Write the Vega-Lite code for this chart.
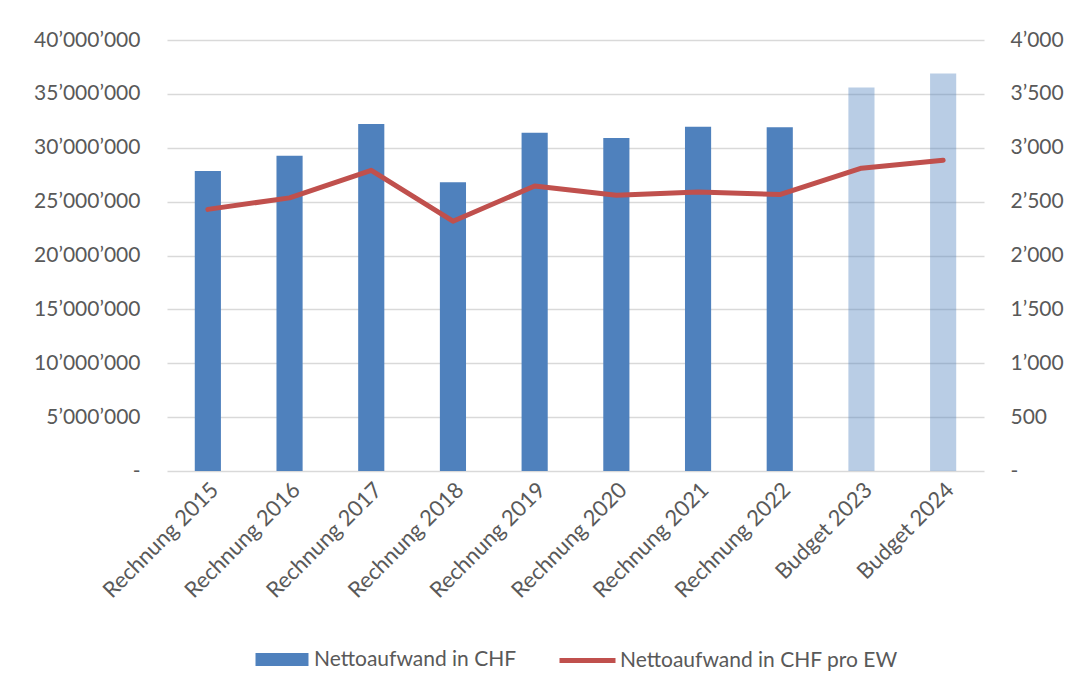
{
  "$schema": "https://vega.github.io/schema/vega-lite/v6.json",
  "width": 817,
  "height": 431,
  "padding": {"left": 27, "top": 29, "right": 10, "bottom": 10},
  "background": "white",
  "config": {
    "font": "Lato",
    "view": {"stroke": null},
    "axis": {
      "labelFont": "Lato",
      "labelFontSize": 21,
      "labelColor": "#595959",
      "domain": false,
      "ticks": false,
      "title": null
    },
    "legend": {
      "orient": "bottom",
      "labelLimit": 500,
      "layout": {"bottom": {"anchor": "middle", "direction": "horizontal", "margin": 40, "center": true}}
    }
  },
  "data": {
    "values": [
      {"cat": "Rechnung 2015", "kind": "Rechnung", "netto": 27850000, "ew": 2428},
      {"cat": "Rechnung 2016", "kind": "Rechnung", "netto": 29250000, "ew": 2535},
      {"cat": "Rechnung 2017", "kind": "Rechnung", "netto": 32200000, "ew": 2790},
      {"cat": "Rechnung 2018", "kind": "Rechnung", "netto": 26800000, "ew": 2318},
      {"cat": "Rechnung 2019", "kind": "Rechnung", "netto": 31400000, "ew": 2645},
      {"cat": "Rechnung 2020", "kind": "Rechnung", "netto": 30900000, "ew": 2560},
      {"cat": "Rechnung 2021", "kind": "Rechnung", "netto": 31950000, "ew": 2590},
      {"cat": "Rechnung 2022", "kind": "Rechnung", "netto": 31900000, "ew": 2565},
      {"cat": "Budget 2023", "kind": "Budget", "netto": 35600000, "ew": 2810},
      {"cat": "Budget 2024", "kind": "Budget", "netto": 36900000, "ew": 2884}
    ]
  },
  "encoding": {
    "x": {
      "field": "cat",
      "type": "nominal",
      "sort": null,
      "scale": {"paddingInner": 0.68, "paddingOuter": 0.34},
      "axis": {"labelAngle": -45, "labelPadding": 8, "labelFontSize": 22, "grid": false}
    }
  },
  "layer": [
    {
      "mark": {"type": "bar"},
      "encoding": {
        "y": {
          "field": "netto",
          "type": "quantitative",
          "scale": {"domain": [0, 40000000]},
          "axis": {
            "orient": "left",
            "values": [0, 5000000, 10000000, 15000000, 20000000, 25000000, 30000000, 35000000, 40000000],
            "grid": true,
            "gridColor": "#d9d9d9",
            "gridWidth": 1.5,
            "labelPadding": 27,
            "minExtent": 140,
            "maxExtent": 140,
            "labelExpr": "datum.value == 0 ? '-' : replace(replace(format(datum.value, ','), ',', '\u2019'), ',', '\u2019')"
          }
        },
        "fill": {
          "datum": "Nettoaufwand in CHF",
          "type": "nominal",
          "scale": {"range": ["#4F81BD"]},
          "legend": {
            "orient": "bottom",
            "title": null,
            "symbolType": "M-0.946,-0.232H0.946V0.232H-0.946Z",
            "symbolSize": 3136,
            "symbolStrokeWidth": 0,
            "labelFontSize": 21,
            "labelColor": "#595959",
            "labelLimit": 500,
            "labelOffset": 4,
            "offset": 28
          }
        },
        "opacity": {
          "field": "kind",
          "type": "nominal",
          "scale": {"domain": ["Rechnung", "Budget"], "range": [1, 0.4]},
          "legend": null
        }
      }
    },
    {
      "mark": {"type": "line", "strokeWidth": 5, "strokeCap": "round", "strokeJoin": "round"},
      "encoding": {
        "y": {
          "field": "ew",
          "type": "quantitative",
          "scale": {"domain": [0, 4000]},
          "axis": {
            "orient": "right",
            "values": [0, 500, 1000, 1500, 2000, 2500, 3000, 3500, 4000],
            "grid": false,
            "labelPadding": 26,
            "labelExpr": "datum.value == 0 ? '-' : replace(format(datum.value, ','), ',', '\u2019')"
          }
        },
        "stroke": {
          "datum": "Nettoaufwand in CHF pro EW",
          "type": "nominal",
          "scale": {"range": ["#C0504D"]},
          "legend": {
            "orient": "bottom",
            "title": null,
            "symbolType": "stroke",
            "symbolSize": 3136,
            "symbolStrokeWidth": 5,
            "labelFontSize": 21,
            "labelColor": "#595959",
            "labelLimit": 500,
            "labelOffset": 2,
            "offset": 28
          }
        }
      }
    }
  ],
  "resolve": {"scale": {"y": "independent", "fill": "independent", "stroke": "independent"}}
}
